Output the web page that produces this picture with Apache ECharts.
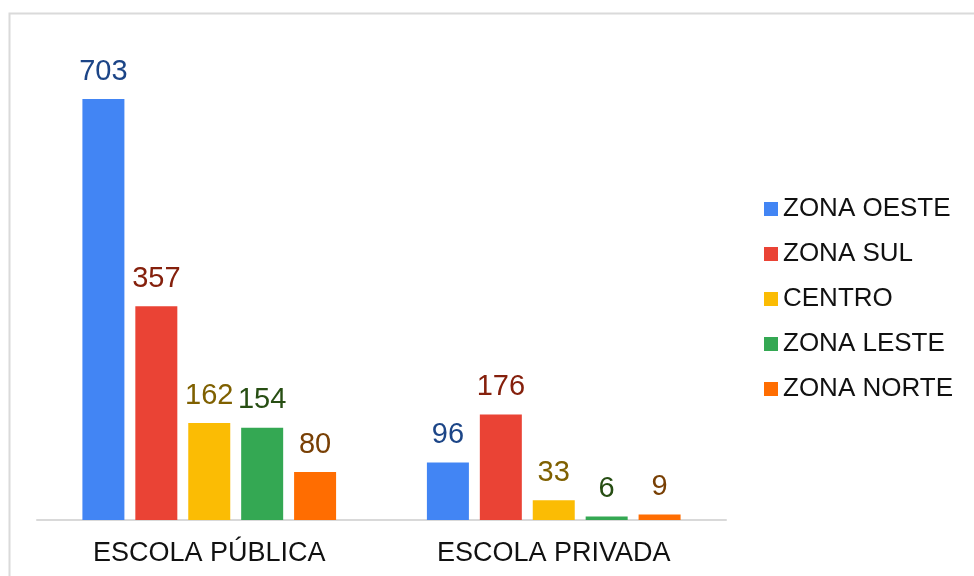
<!DOCTYPE html>
<html>
<head>
<meta charset="utf-8">
<script src="https://cdn.jsdelivr.net/npm/echarts@6/dist/echarts.min.js"></script>
<style>
  html, body { margin: 0; padding: 0; background: #fff; }
  #chart { width: 974px; height: 576px; }
</style>
</head>
<body>
<div id="chart"></div>
<script>
var categories = ['ESCOLA PÚBLICA', 'ESCOLA PRIVADA'];
var seriesNames = ['ZONA OESTE', 'ZONA SUL', 'CENTRO', 'ZONA LESTE', 'ZONA NORTE'];
var zonaOeste = [703, 96];
var zonaSul = [357, 176];
var centro = [162, 33];
var zonaLeste = [154, 6];
var zonaNorte = [80, 9];

var barColors = ['#4285f4', '#ea4335', '#fbbc04', '#34a853', '#ff6d01'];
var labelColors = ['#1c4587', '#85200c', '#7f6000', '#274e13', '#783f04'];
var values = [zonaOeste, zonaSul, centro, zonaLeste, zonaNorte];

var chart = echarts.init(document.getElementById('chart'));

var series = [];
for (var i = 0; i < seriesNames.length; i++) {
  series.push({
    name: seriesNames[i],
    type: 'bar',
    data: values[i],
    barWidth: 42,
    barGap: '26%',
    itemStyle: { color: barColors[i] },
    label: {
      show: true,
      position: 'top',
      distance: 13,
      fontFamily: 'Liberation Sans, Arial, sans-serif',
      fontSize: 29,
      color: labelColors[i]
    }
  });
}

var option = {
  animation: false,
  backgroundColor: '#fff',
  graphic: [{
    type: 'rect',
    left: 7,
    top: 11,
    shape: { width: 1000, height: 600 },
    style: { fill: 'none', stroke: '#dadada', lineWidth: 2 },
    silent: true
  }],
  grid: { left: 37, right: 248, top: 41, bottom: 56 },
  legend: {
    orient: 'vertical',
    left: 759,
    top: 191,
    itemWidth: 14,
    itemHeight: 14,
    itemGap: 19,
    icon: 'rect',
    textStyle: {
      fontFamily: 'Liberation Sans, Arial, sans-serif',
      fontSize: 26,
      lineHeight: 26,
      color: '#111'
    },
    data: seriesNames
  },
  xAxis: {
    type: 'category',
    data: categories,
    axisLine: { lineStyle: { color: '#d9d9d9', width: 2 } },
    axisTick: { show: false },
    axisLabel: {
      margin: 20,
      fontFamily: 'Liberation Sans, Arial, sans-serif',
      fontSize: 27,
      color: '#111'
    }
  },
  yAxis: {
    type: 'value',
    min: 0,
    max: 800,
    show: false,
    splitLine: { show: false }
  },
  series: series
};

chart.setOption(option);
</script>
</body>
</html>
